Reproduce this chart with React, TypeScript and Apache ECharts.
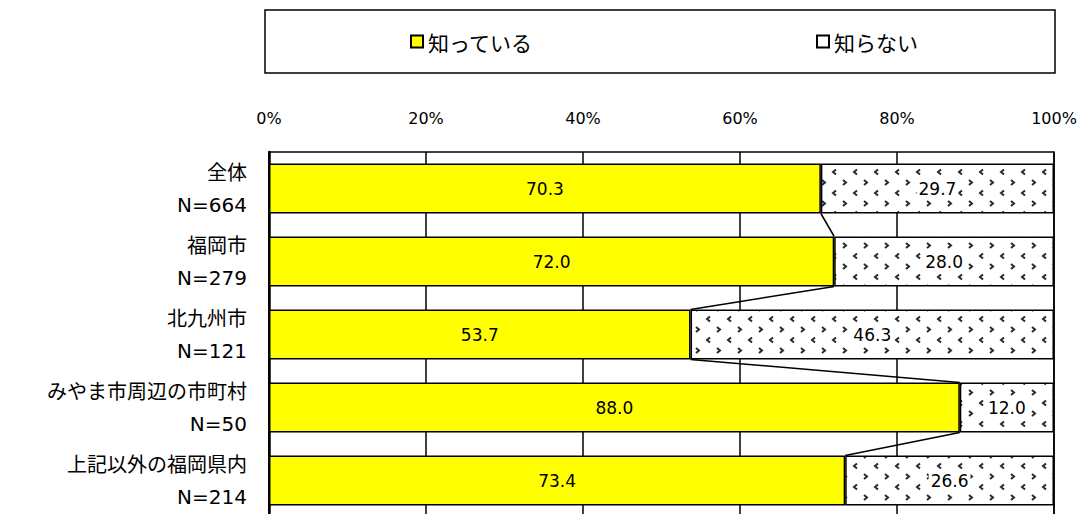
import React, { useEffect, useRef } from "react";
import * as echarts from "echarts";

const categories = ["全体", "福岡市", "北九州市", "みやま市周辺の市町村", "上記以外の福岡県内"];
const sampleSizes = [664, 279, 121, 50, 214];
const knowValues = [70.3, 72.0, 53.7, 88.0, 73.4];
const notKnowValues = [29.7, 28.0, 46.3, 12.0, 26.6];
const seriesNames = ["知っている", "知らない"];

const FONT = "'DejaVu Sans', 'Noto Sans CJK JP', sans-serif";
const CJK_FONT = "'Noto Sans CJK JP', sans-serif";

function makePattern(): HTMLCanvasElement {
  const c = document.createElement("canvas");
  c.width = 21;
  c.height = 21;
  const ctx = c.getContext("2d")!;
  ctx.fillStyle = "#ffffff";
  ctx.fillRect(0, 0, 21, 21);
  ctx.strokeStyle = "#2a2a2a";
  ctx.lineWidth = 2;
  const lt = (x: number, y: number) => {
    ctx.beginPath();
    ctx.moveTo(x + 2, y - 2.5);
    ctx.lineTo(x - 1, y);
    ctx.lineTo(x + 2, y + 2.5);
    ctx.stroke();
  };
  const gt = (x: number, y: number) => {
    ctx.beginPath();
    ctx.moveTo(x - 2, y - 2.5);
    ctx.lineTo(x + 1, y);
    ctx.lineTo(x - 2, y + 2.5);
    ctx.stroke();
  };
  lt(15, 4);
  gt(5, 14.5);
  return c;
}

export default function App() {
  const ref = useRef<HTMLDivElement>(null);
  useEffect(() => {
    if (!ref.current) return;
    const chart = echarts.init(ref.current, undefined, { renderer: "svg" });
    const pattern = { image: makePattern(), repeat: "repeat" } as any;
    const legendText = { fontSize: 21, color: "#000", fontFamily: CJK_FONT };
    const option: any = {
      animation: false,
      backgroundColor: "#fff",
      textStyle: { fontFamily: FONT },
      graphic: [
        {
          type: "rect",
          shape: { x: 265, y: 10, width: 790, height: 63 },
          style: { fill: "none", stroke: "#000", lineWidth: 1.5 },
          silent: true,
        },
      ],
      legend: [
        {
          data: [seriesNames[0]],
          icon: "rect",
          left: 405,
          top: 26,
          itemWidth: 12,
          itemHeight: 12,
          textStyle: legendText,
        },
        {
          data: [seriesNames[1]],
          icon: "rect",
          left: 811,
          top: 26,
          itemWidth: 12,
          itemHeight: 12,
          textStyle: legendText,
        },
      ],
      grid: {
        left: 269,
        right: 26,
        top: 152,
        bottom: 13,
        show: true,
        borderColor: "#000",
        borderWidth: 1.5,
      },
      xAxis: {
        type: "value",
        position: "top",
        min: 0,
        max: 100,
        interval: 20,
        axisLine: { show: false },
        axisTick: { show: false },
        axisLabel: {
          formatter: "{value}%",
          fontSize: 16,
          color: "#000",
          margin: 26,
          fontFamily: FONT,
        },
        splitLine: { show: true, lineStyle: { color: "#000", width: 1.5 } },
      },
      yAxis: {
        type: "category",
        inverse: true,
        data: categories,
        axisLine: { show: true, lineStyle: { color: "#000", width: 2.5 } },
        axisTick: { show: false },
        axisLabel: {
          formatter: (v: string, i: number) => `${v}\nN=${sampleSizes[i]}`,
          fontSize: 20,
          lineHeight: 32,
          color: "#000",
          margin: 22,
          fontFamily: FONT,
        },
      },
      series: [
        {
          name: seriesNames[0],
          type: "bar",
          stack: "total",
          barWidth: 50,
          data: knowValues,
          itemStyle: { color: "#ffff00", borderColor: "#000", borderWidth: 1.5 },
          label: {
            show: true,
            position: "inside",
            color: "#000",
            fontSize: 17,
            fontFamily: FONT,
            formatter: (p: any) => Number(p.value).toFixed(1),
          },
          z: 3,
        },
        {
          name: seriesNames[1],
          type: "bar",
          stack: "total",
          barWidth: 50,
          data: notKnowValues,
          itemStyle: { color: pattern, borderColor: "#000", borderWidth: 1.5 },
          label: {
            show: true,
            position: "inside",
            color: "#000",
            fontSize: 17,
            fontFamily: FONT,
            backgroundColor: "#fff",
            padding: [1, 2],
            formatter: (p: any) => Number(p.value).toFixed(1),
          },
          z: 3,
        },
        {
          type: "custom",
          silent: true,
          z: 5,
          data: knowValues.map((v, i) => [v, i]),
          encode: { x: 0, y: 1 },
          renderItem: (params: any, api: any) => {
            const i = params.dataIndex;
            if (i >= knowValues.length - 1) return null;
            const p1 = api.coord([knowValues[i], i]);
            const p2 = api.coord([knowValues[i + 1], i + 1]);
            const half = 25;
            return {
              type: "line",
              shape: { x1: p1[0], y1: p1[1] + half, x2: p2[0], y2: p2[1] - half },
              style: { stroke: "#000", lineWidth: 1.5 },
            };
          },
        },
      ],
    };
    chart.setOption(option);
    return () => chart.dispose();
  }, []);
  return (
    <div
      style={{
        position: "fixed",
        left: 0,
        top: 0,
        width: 1080,
        height: 514,
        overflow: "hidden",
        background: "#fff",
      }}
    >
      <div ref={ref} style={{ width: 1080, height: 530 }} />
    </div>
  );
}
